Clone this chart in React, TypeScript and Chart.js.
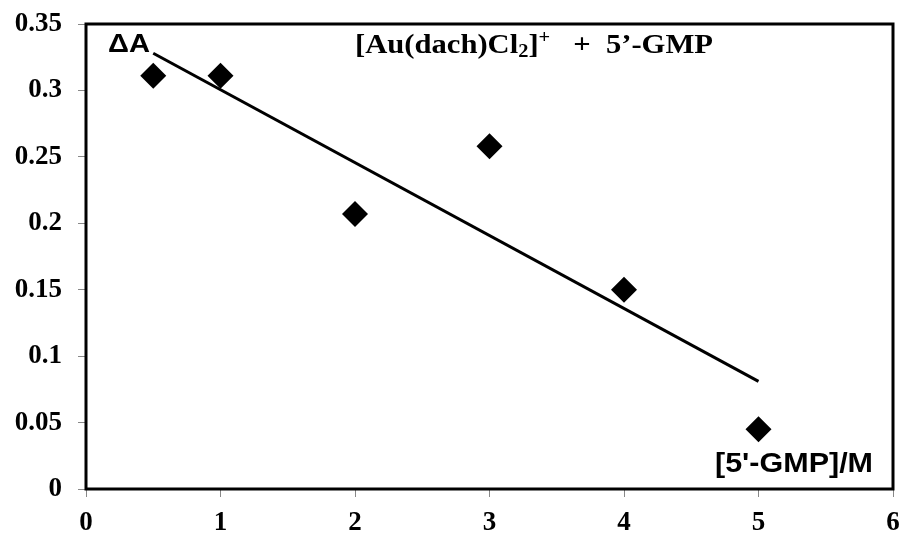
import React, { useEffect, useRef } from "react";
import { Chart, registerables } from "chart.js";
Chart.register(...registerables);

const xValues = [0.5, 1, 2, 3, 4, 5];
const yValues = [0.311, 0.311, 0.207, 0.258, 0.15, 0.045];
const trendX = [0.5, 5];
const trendY = [0.328, 0.081];
const yLabelText = "ΔA";
const xLabelText = "[5'-GMP]/M";
const titleParts = [
  { t: "[Au(dach)Cl", k: "n" },
  { t: "2", k: "sub" },
  { t: "]", k: "n" },
  { t: "+", k: "sup" },
  { t: "   +  5’-GMP", k: "n" },
];

const SERIF = "'Liberation Serif', 'Times New Roman', serif";
const SANS = "'Liberation Sans', Arial, sans-serif";

const annotations = {
  id: "annotations",
  afterDraw(chart: any) {
    const { ctx, chartArea } = chart;
    ctx.save();
    ctx.strokeStyle = "#000";
    ctx.lineWidth = 3;
    ctx.strokeRect(chartArea.left, chartArea.top, chartArea.right - chartArea.left, chartArea.bottom - chartArea.top);
    ctx.fillStyle = "#000";
    ctx.textBaseline = "alphabetic";
    ctx.textAlign = "left";

    const drawFit = (txt: string, font: string, x: number, base: number, width: number) => {
      ctx.font = font;
      const w = ctx.measureText(txt).width;
      const s = width / w;
      ctx.save();
      ctx.translate(x, base);
      ctx.scale(s, 1);
      ctx.fillText(txt, 0, 0);
      ctx.restore();
    };
    drawFit(yLabelText, `bold 26px ${SANS}`, 108, 52, 42);
    drawFit(xLabelText, `bold 28px ${SANS}`, 715, 472, 158);

    const fonts: any = {
      n: `bold 27px ${SERIF}`,
      sub: `bold 18px ${SERIF}`,
      sup: `bold 18px ${SERIF}`,
    };
    const offs: any = { n: 0, sub: 4, sup: -10 };
    let total = 0;
    const widths = titleParts.map((p) => {
      ctx.font = fonts[p.k];
      const w = ctx.measureText(p.t).width;
      total += w;
      return w;
    });
    const s = 358 / total;
    ctx.save();
    ctx.translate(355, 53);
    ctx.scale(s, 1);
    let cx = 0;
    titleParts.forEach((p, i) => {
      ctx.font = fonts[p.k];
      ctx.fillText(p.t, cx, offs[p.k]);
      cx += widths[i];
    });
    ctx.restore();
    ctx.restore();
  },
};

export default function App() {
  const ref = useRef<HTMLCanvasElement>(null);
  useEffect(() => {
    if (!ref.current) return;
    const tickFont = { family: SERIF, size: 27, weight: "bold" as const };
    const chart = new Chart(ref.current, {
      type: "scatter",
      data: {
        datasets: [
          {
            label: "data",
            data: xValues.map((x, i) => ({ x, y: yValues[i] })),
            pointStyle: "rectRot",
            pointRadius: 13,
            backgroundColor: "#000",
            borderColor: "#000",
            borderWidth: 0,
            showLine: false,
          },
          {
            label: "trend",
            data: trendX.map((x, i) => ({ x, y: trendY[i] })),
            showLine: true,
            borderColor: "#000",
            borderWidth: 3,
            pointRadius: 0,
            fill: false,
          },
        ],
      },
      options: {
        responsive: false,
        devicePixelRatio: 1,
        animation: false,
        layout: { padding: { top: 24, right: 11, left: 8, bottom: 0 } },
        plugins: { legend: { display: false }, tooltip: { enabled: false }, title: { display: false } },
        scales: {
          x: {
            type: "linear",
            min: 0,
            max: 6,
            ticks: { stepSize: 1, color: "#000", font: tickFont, padding: 10, maxRotation: 0 },
            grid: { drawOnChartArea: false, drawTicks: true, tickLength: 8, color: "#888" },
            border: { display: false },
            afterFit: (s: any) => {
              s.height = 47;
              s.paddingLeft = 0;
              s.paddingRight = 0;
            },
          },
          y: {
            type: "linear",
            min: 0,
            max: 0.35,
            ticks: {
              stepSize: 0.05,
              color: "#000",
              font: tickFont,
              padding: 16,
              callback: (v: any) => String(Number(Number(v).toFixed(2))),
            },
            grid: { drawOnChartArea: false, drawTicks: true, tickLength: 8, color: "#888" },
            border: { display: false },
            afterFit: (s: any) => {
              s.width = 78;
              s.paddingTop = 0;
              s.paddingBottom = 0;
            },
          },
        },
      },
      plugins: [annotations],
    });
    return () => chart.destroy();
  }, []);
  return (
    <div style={{ position: "fixed", left: 0, top: 0, width: 906, height: 536, background: "#fff" }}>
      <canvas ref={ref} width={906} height={536} style={{ display: "block", width: 906, height: 536 }} />
    </div>
  );
}
